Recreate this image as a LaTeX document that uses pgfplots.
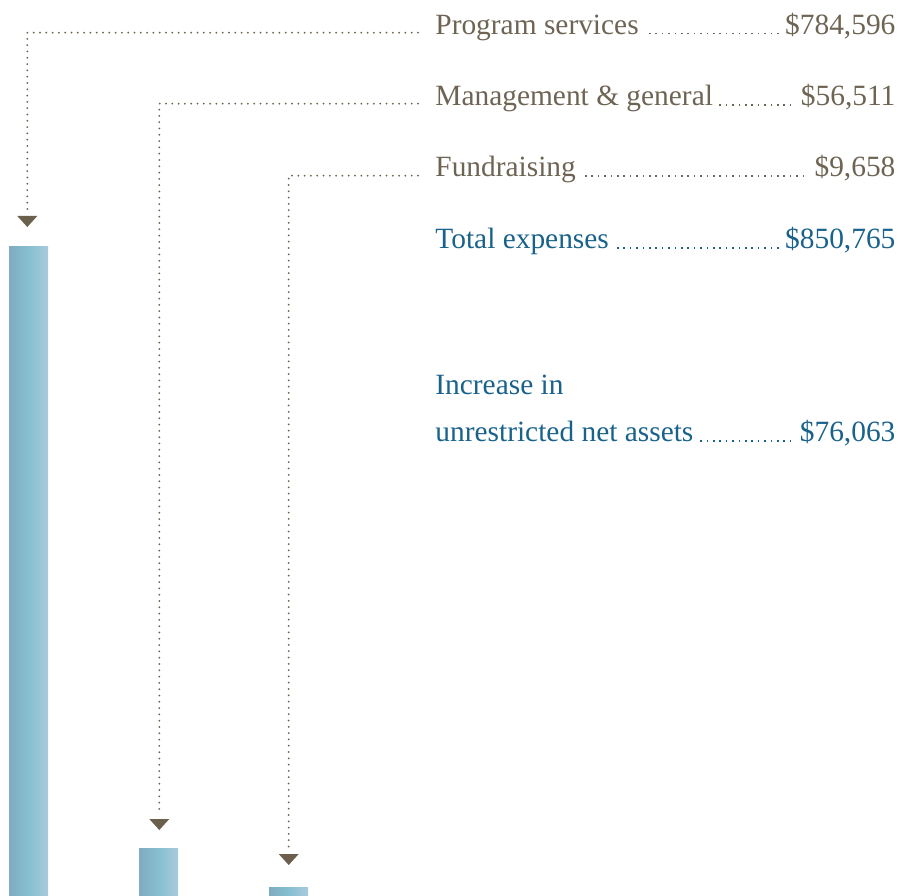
\documentclass[border=0pt]{standalone}
\usepackage{pgfplots}
\pgfplotsset{compat=1.18}
\usepackage{fontspec}
\setmainfont{Liberation Serif}
\definecolor{txtbrown}{HTML}{6E6454}
\definecolor{txtblue}{HTML}{19628B}
\definecolor{arrowc}{HTML}{6A604C}
\definecolor{barL}{HTML}{80ABC1}
\definecolor{barM}{HTML}{86BED1}
\definecolor{barR}{HTML}{A8CBDB}
\newcommand{\lead}{\hspace{1pt}\leaders\hbox to 3.2pt{\hss\rule{0.75pt}{0.75pt}\hss}\hfill\hspace{1pt}}
\pgfplotsset{barstyle/.style={ybar, bar width=19.5pt, draw=none, mark=none, left color=barL, right color=barR, middle color=barM}}
\begin{document}
\begin{tikzpicture}
\useasboundingbox (0,0) rectangle (449pt,447.5pt);
\begin{axis}[
  at={(0,0)}, anchor=south west,
  scale only axis, width=449pt, height=447.5pt,
  xmin=0, xmax=898, ymin=0, ymax=1082000,
  hide axis, clip=false,
]
\addplot[barstyle] coordinates {(28.5,784596)};
\addplot[barstyle] coordinates {(158.5,56511)};
\addplot[barstyle] coordinates {(288.5,9658)};
\end{axis}
% leader lines
\begin{scope}[arrowc, line width=1pt, line cap=round, dash pattern=on 0pt off 3.15pt]
\draw (209pt,431.15pt) -- (13.65pt,431.15pt) -- (13.65pt,341.5pt);
\draw (209pt,395.65pt) -- (79.65pt,395.65pt) -- (79.65pt,40.5pt);
\draw (209pt,359.65pt) -- (144.35pt,359.65pt) -- (144.35pt,23pt);
\end{scope}
\fill[arrowc] (8.65pt,339.5pt) -- (18.65pt,339.5pt) -- (13.65pt,334pt) -- cycle;
\fill[arrowc] (74.65pt,38pt) -- (84.65pt,38pt) -- (79.65pt,32.5pt) -- cycle;
\fill[arrowc] (139.35pt,20.5pt) -- (149.35pt,20.5pt) -- (144.35pt,15pt) -- cycle;
% text
\begin{scope}[every node/.style={anchor=base west, inner sep=0pt, font=\fontsize{14.7}{17}\selectfont}]
\node[text=txtbrown] at (217.5pt,430.35pt) {\hbox to 230pt{Program services\lead\$784,596}};
\node[text=txtbrown] at (217.5pt,394.5pt) {\hbox to 230pt{Management \& general\lead\$56,511}};
\node[text=txtbrown] at (217.5pt,359.15pt) {\hbox to 230pt{Fundraising\lead\$9,658}};
\node[text=txtblue] at (217.5pt,323pt) {\hbox to 230pt{Total expenses\lead\$850,765}};
\node[text=txtblue] at (217.5pt,250.35pt) {Increase in};
\node[text=txtblue] at (217.5pt,226.65pt) {\hbox to 230pt{unrestricted net assets\lead\$76,063}};
\end{scope}
\end{tikzpicture}
\end{document}
